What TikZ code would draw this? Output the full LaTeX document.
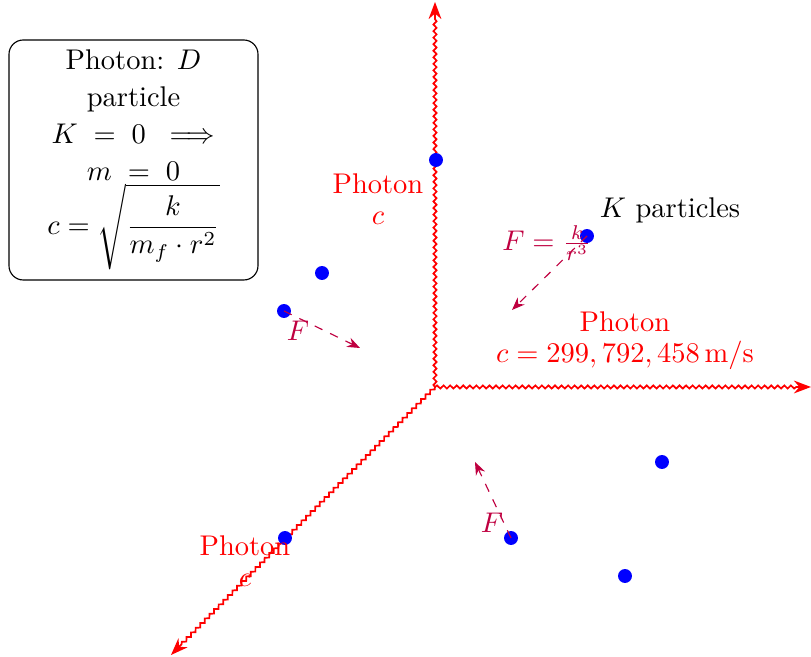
\documentclass[tikz,border=0pt]{standalone}
\usepackage{amsmath}
\usetikzlibrary{decorations.pathmorphing,arrows.meta}
\begin{document}
\begin{tikzpicture}[x=0.351pt,y=-0.351pt,
  axisline/.style={red,line width=0.6pt,-{Stealth[length=6pt,width=4.5pt]},
    decorate,decoration={snake,amplitude=0.55pt,segment length=2.3pt,post length=5pt}},
  dot/.style={circle,fill=blue,inner sep=0pt,minimum size=4.9pt},
  force/.style={purple,dashed,thin,-{Stealth[length=4.5pt,width=3.5pt]}},
  redlbl/.style={red,align=center,inner sep=0pt},
  flbl/.style={purple,inner sep=0pt}]
\useasboundingbox (0,0) rectangle (811,657);
% axes
\coordinate (O) at (435,387);
\coordinate (Yend) at (435,2);
\coordinate (Xend) at (811,387);
\coordinate (Zend) at (171,655);
\draw[axisline] (O) -- (Yend);
\draw[axisline] (O) -- (Xend);
\draw[axisline] (O) -- (Zend);
% info box
\node[draw,rounded corners=5pt,align=center,minimum width=249*0.351pt,minimum height=240*0.351pt,inner sep=1pt] (box) at (133.5,160)
  {Photon: $D$\\[1pt] particle\\[1pt] $K\;=\;0\;\;\Longrightarrow$\\[1pt] $m\;=\;0$\\ $c=\sqrt{\dfrac{k}{m_f\cdot r^2}}$};
% dots
\node[dot] (d1) at (436,160) {};
\node[dot] (d2) at (322,273) {};
\node[dot] (d3) at (284,311) {};
\node[dot] (d4) at (587,236) {};
\node[dot] (d5) at (662,462) {};
\node[dot] (d6) at (511,538) {};
\node[dot] (d7) at (625,576) {};
\node[dot] (d8) at (285,538) {};
% labels
\node[redlbl] (l1) at (378,199) {Photon\\[-1pt] $c$};
\node[redlbl] (l2) at (625,341) {Photon\\[-1pt] $c=299,792,458\,\mathrm{m/s}$};
\node[redlbl] (l3) at (245,561) {Photon\\[-1pt] $c$};
\node (kp) at (670,210) {$K$ particles};
% forces
\coordinate (f1) at (512,310);
\coordinate (f2) at (360,348);
\coordinate (f3) at (475,462);
\draw[force] (d4.center) -- (f1);
\draw[force] (d3.center) -- (f2);
\draw[force] (d6.center) -- (f3);
\node[flbl] (fl1) at (547,243) {$F=\frac{k}{r^3}$};
\node[flbl] (fl2) at (298,331) {$F$};
\node[flbl] (fl3) at (492,523) {$F$};
\end{tikzpicture}
\end{document}
